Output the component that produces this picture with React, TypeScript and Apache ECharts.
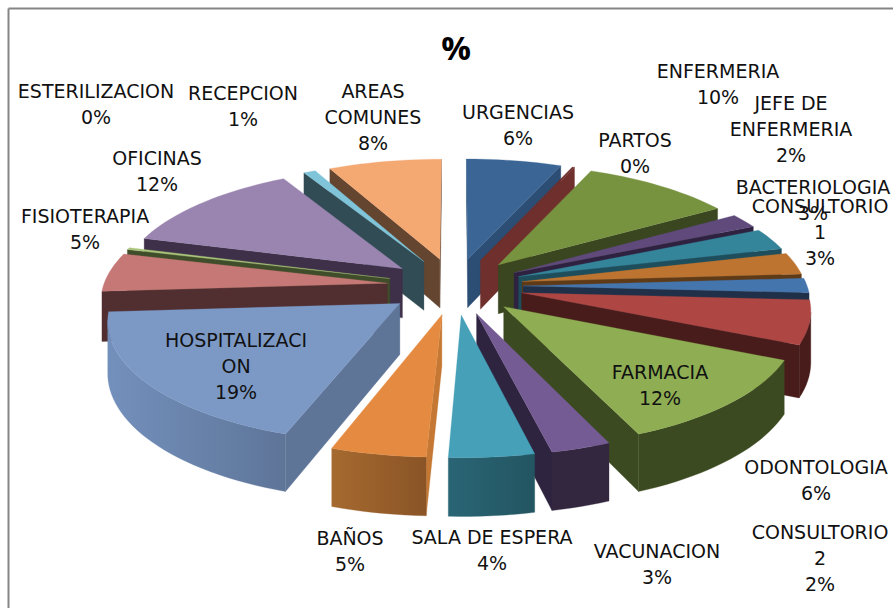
import React, { useEffect, useRef } from "react";
import * as echarts from "echarts";

const categories = ["URGENCIAS","PARTOS","ENFERMERIA","JEFE DE ENFERMERIA","BACTERIOLOGIA","CONSULTORIO 1","CONSULTORIO 2","ODONTOLOGIA","FARMACIA","VACUNACION","SALA DE ESPERA","BAÑOS","HOSPITALIZACION","FISIOTERAPIA","ESTERILIZACION","OFICINAS","RECEPCION","AREAS COMUNES"];
const values = [6.3,0.15,10,2,3,3,2,6,12,3,4.25,4.75,19,5.3,0.3,12.7,0.8,7.5];
const percentLabels = [6,0,10,2,3,3,2,6,12,3,4,5,19,5,0,12,1,8];
const labelLines = [["URGENCIAS"],["PARTOS"],["ENFERMERIA"],["JEFE DE","ENFERMERIA"],["BACTERIOLOGIA"],["CONSULTORIO","1"],["CONSULTORIO","2"],["ODONTOLOGIA"],["FARMACIA"],["VACUNACION"],["SALA DE ESPERA"],["BAÑOS"],["HOSPITALIZACI","ON"],["FISIOTERAPIA"],["ESTERILIZACION"],["OFICINAS"],["RECEPCION"],["AREAS","COMUNES"]];
const labelAnchors = [[518,125],[635,153],[718,84],[791,129],[813,200],[820,232],[820,558],[816,480],[660,385],[657,564],[492,550],[350,551],[236,366],[85,229],[96,104],[157,171],[243,106],[373,117]];
const topColors = ["#3A6595","#6F2F2D","#77933F","#5F4A7B","#35859A","#BD7430","#4575AD","#AE4744","#8FAE53","#755B93","#45A0B8","#E58B41","#7C99C6","#C57876","#A9C479","#9A85B0","#7FC4D8","#F4A872"];
const wallColors = ["#2C4E75","#6F2F2D","#3A4620","#2E2240","#1E4E5C","#5E3A17","#1F3048","#471C1A","#3B4A20","#2F2440","#25596A","#C47833","#5E7598","#512E30","#3F4D2A","#3E3048","#314C55","#644530"];
const rimLeft = ["#2C4E75","#6F2F2D","#3A4620","#2E2240","#1E4E5C","#5E3A17","#1F3048","#471C1A","#3B4A20","#33263F","#2A6575","#A66A30","#7390BC","#512E30","#3F4D2A","#3E3048","#314C55","#644530"];
const rimRight = ["#2C4E75","#6F2F2D","#3A4620","#2E2240","#1E4E5C","#5E3A17","#1F3048","#471C1A","#3B4A20","#33263F","#235561","#8A5426","#5E7598","#512E30","#3F4D2A","#3E3048","#314C55","#644530"];

const CX = 455, CY = 286, A = 284, B = 118, K = 0.12, EXPLODE = 0.24, THICK = 50;
const total = values.reduce((a, b) => a + b, 0);
const starts: number[] = [];
values.reduce((acc, v, i) => { starts[i] = acc; return acc + v; }, 0);
const toRad = (v: number) => (v / total) * Math.PI * 2;

function project(x: number, z: number, drop: number): number[] {
  const w = 1 / (1 - K * z);
  return [CX + A * x * w, CY + B * z * w + (drop ? THICK * w : 0)];
}
const cross = (p: number[], q: number[], r: number[]) =>
  (q[0] - p[0]) * (r[1] - q[1]) - (q[1] - p[1]) * (r[0] - q[0]);

function renderSlice(_: any, api: any) {
  const i = api.value(0) as number;
  const t0 = toRad(starts[i]);
  const t1 = toRad(starts[i] + values[i]);
  const mid = (t0 + t1) / 2;
  const ox = EXPLODE * Math.sin(mid), oz = -EXPLODE * Math.cos(mid);
  const n = Math.max(2, Math.ceil((t1 - t0) / 0.035));
  const topArc: number[][] = [], lowArc: number[][] = [];
  for (let s = 0; s <= n; s++) {
    const t = t0 + ((t1 - t0) * s) / n;
    const x = ox + Math.sin(t), z = oz - Math.cos(t);
    topArc.push(project(x, z, 0));
    lowArc.push(project(x, z, 1));
  }
  const apexTop = project(ox, oz, 0), apexLow = project(ox, oz, 1);
  const children: any[] = [];
  const poly = (points: number[][], fill: any) => children.push({ type: "polygon", shape: { points }, style: { fill, stroke: fill, lineWidth: 0.3 } });
  if (cross(apexTop, topArc[0], lowArc[0]) < 0) poly([apexTop, topArc[0], lowArc[0], apexLow], wallColors[i]);
  if (cross(apexTop, topArc[n], lowArc[n]) > 0) poly([apexTop, topArc[n], lowArc[n], apexLow], wallColors[i]);
  const vis: number[] = [];
  for (let s = 0; s < n; s++) if (topArc[s + 1][0] < topArc[s][0]) { vis.push(s); }
  if (vis.length) {
    const a = vis[0], b = vis[vis.length - 1] + 1;
    const pts = [...topArc.slice(a, b + 1), ...lowArc.slice(a, b + 1).reverse()];
    poly(pts, new echarts.graphic.LinearGradient(0, 0, 1, 0, [
      { offset: 0, color: rimLeft[i] }, { offset: 1, color: rimRight[i] },
    ]));
  }
  poly([apexTop, ...topArc], topColors[i]);
  return { type: "group", children };
}

const depth = (i: number) => -Math.cos(toRad(starts[i] + values[i] / 2));
const drawOrder = categories.map((_, i) => i).sort((a, b) => depth(a) - depth(b));

export default function App() {
  const ref = useRef<HTMLDivElement>(null);
  useEffect(() => {
    document.body.style.margin = "0";
    const chart = echarts.init(ref.current!, undefined, { renderer: "svg" });
    const font = "'DejaVu Sans', sans-serif";
    chart.setOption({
      animation: false,
      backgroundColor: "#ffffff",
      title: {
        text: "%", left: 451, top: 26, textAlign: "center",
        textStyle: { fontFamily: "'Open Sans', sans-serif", fontSize: 33, fontWeight: "bold", color: "#000000" },
      },
      graphic: [
        { type: "line", z: 50, shape: { x1: 8.5, y1: 8.5, x2: 893, y2: 8.5 }, style: { stroke: "#858585", lineWidth: 2 } },
        { type: "line", z: 50, shape: { x1: 8.5, y1: 8.5, x2: 8.5, y2: 608 }, style: { stroke: "#858585", lineWidth: 2 } },
        ...categories.map((_, i) => ({
          type: "text", z: 100, x: labelAnchors[i][0], y: labelAnchors[i][1],
          style: {
            text: [...labelLines[i], `${percentLabels[i]}%`].join("\n"),
            fontFamily: font, fontSize: 19, lineHeight: 26, fill: "#111111",
            align: "center", verticalAlign: "middle",
          },
        })),
      ],
      series: [{
        type: "custom", coordinateSystem: "none", silent: true, renderItem: renderSlice,
        data: drawOrder.map((i) => ({ name: categories[i], value: [i, values[i]] })),
      }],
    });
    return () => chart.dispose();
  }, []);
  return <div ref={ref} style={{ position: "absolute", left: 0, top: 0, width: 893, height: 608 }} />;
}
